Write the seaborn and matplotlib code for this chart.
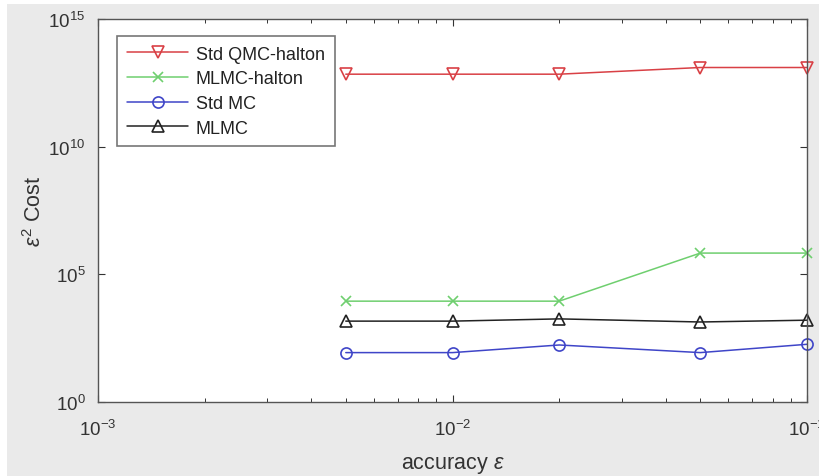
import matplotlib
matplotlib.use("Agg")
import matplotlib.pyplot as plt
from matplotlib.patches import Rectangle
from matplotlib.ticker import LogLocator, NullLocator, NullFormatter
import seaborn as sns
import pandas as pd
import numpy as np

# ---- data ----
accuracy = [0.005, 0.01, 0.02, 0.05, 0.1]
std_qmc_halton = [6.9e12, 6.9e12, 6.9e12, 1.26e13, 1.26e13]
mlmc_halton = [8.9e3, 8.9e3, 8.9e3, 6.8e5, 6.8e5]
std_mc = [86, 86, 171, 86, 182]
mlmc = [1.47e3, 1.47e3, 1.8e3, 1.36e3, 1.6e3]
series_names = ["Std QMC-halton", "MLMC-halton", "Std MC", "MLMC"]

series_values = [std_qmc_halton, mlmc_halton, std_mc, mlmc]
colors = ["#d94045", "#6fcf6f", "#3f45c8", "#222222"]
markers = ["v", "x", "o", "^"]
msizes = [9, 7, 8, 8]

sns.set_style("ticks")
plt.rcParams["font.family"] = ["Liberation Sans", "DejaVu Sans"]
plt.rcParams["mathtext.fontset"] = "custom"
plt.rcParams["mathtext.rm"] = "Liberation Sans"
plt.rcParams["mathtext.it"] = "Liberation Sans:italic"
plt.rcParams["mathtext.sf"] = "Liberation Sans"

fig = plt.figure(figsize=(8.19, 4.77), dpi=100, facecolor="white")
fig.patches.append(Rectangle((7 / 819, 0), 1, 1 - 5 / 477, transform=fig.transFigure,
                             facecolor="#eaeaea", edgecolor="none", zorder=-10))
ax = fig.add_axes([98 / 819, 1 - 403 / 477, (807 - 98) / 819, (403 - 20) / 477])
ax.set_facecolor("white")

for name, vals, c, m, ms in zip(series_names, series_values, colors, markers, msizes):
    df = pd.DataFrame({"accuracy": accuracy, "cost": vals})
    sns.lineplot(data=df, x="accuracy", y="cost", ax=ax, color=c, marker=m,
                 markersize=ms, mfc="none", mec=c, mew=1.2, linewidth=1.1,
                 label=name, clip_on=False)

ax.set_xscale("log")
ax.set_yscale("log")
ax.set_xlim(1e-3, 1e-1)
ax.set_ylim(1e0, 1e15)
ax.xaxis.set_major_locator(LogLocator(base=10, numticks=10))
ax.xaxis.set_minor_locator(LogLocator(base=10, subs=np.arange(2, 10), numticks=20))
ax.xaxis.set_minor_formatter(NullFormatter())
ax.set_yticks([1e0, 1e5, 1e10, 1e15])
ax.yaxis.set_minor_locator(NullLocator())

for s in ax.spines.values():
    s.set_visible(True)
    s.set_color("#555555")
    s.set_linewidth(1.0)
ax.tick_params(which="both", direction="in", top=True, right=True, color="#333333",
               labelcolor="#333333")
ax.tick_params(axis="x", labelsize=13.5, pad=12)
ax.tick_params(axis="y", labelsize=13.5, pad=9)
ax.tick_params(which="major", length=5, width=0.8)
ax.tick_params(which="minor", length=3, width=0.7)

ax.set_xlabel(r"accuracy $\epsilon$", fontsize=15.5, color="#333333", labelpad=10)
ax.set_ylabel(r"$\epsilon^2$ Cost", fontsize=15.5, color="#333333", labelpad=2)

leg = ax.legend(loc="upper left", bbox_to_anchor=(0.027, 0.956), fontsize=13,
                frameon=True, fancybox=False, edgecolor="#555555", handlelength=3.4,
                borderpad=0.55, labelspacing=0.42, handletextpad=0.4, borderaxespad=0)
leg.get_frame().set_linewidth(1.2)
for t in leg.get_texts():
    t.set_color("#222222")

fig.savefig("out.png", dpi=100, facecolor=fig.get_facecolor())
